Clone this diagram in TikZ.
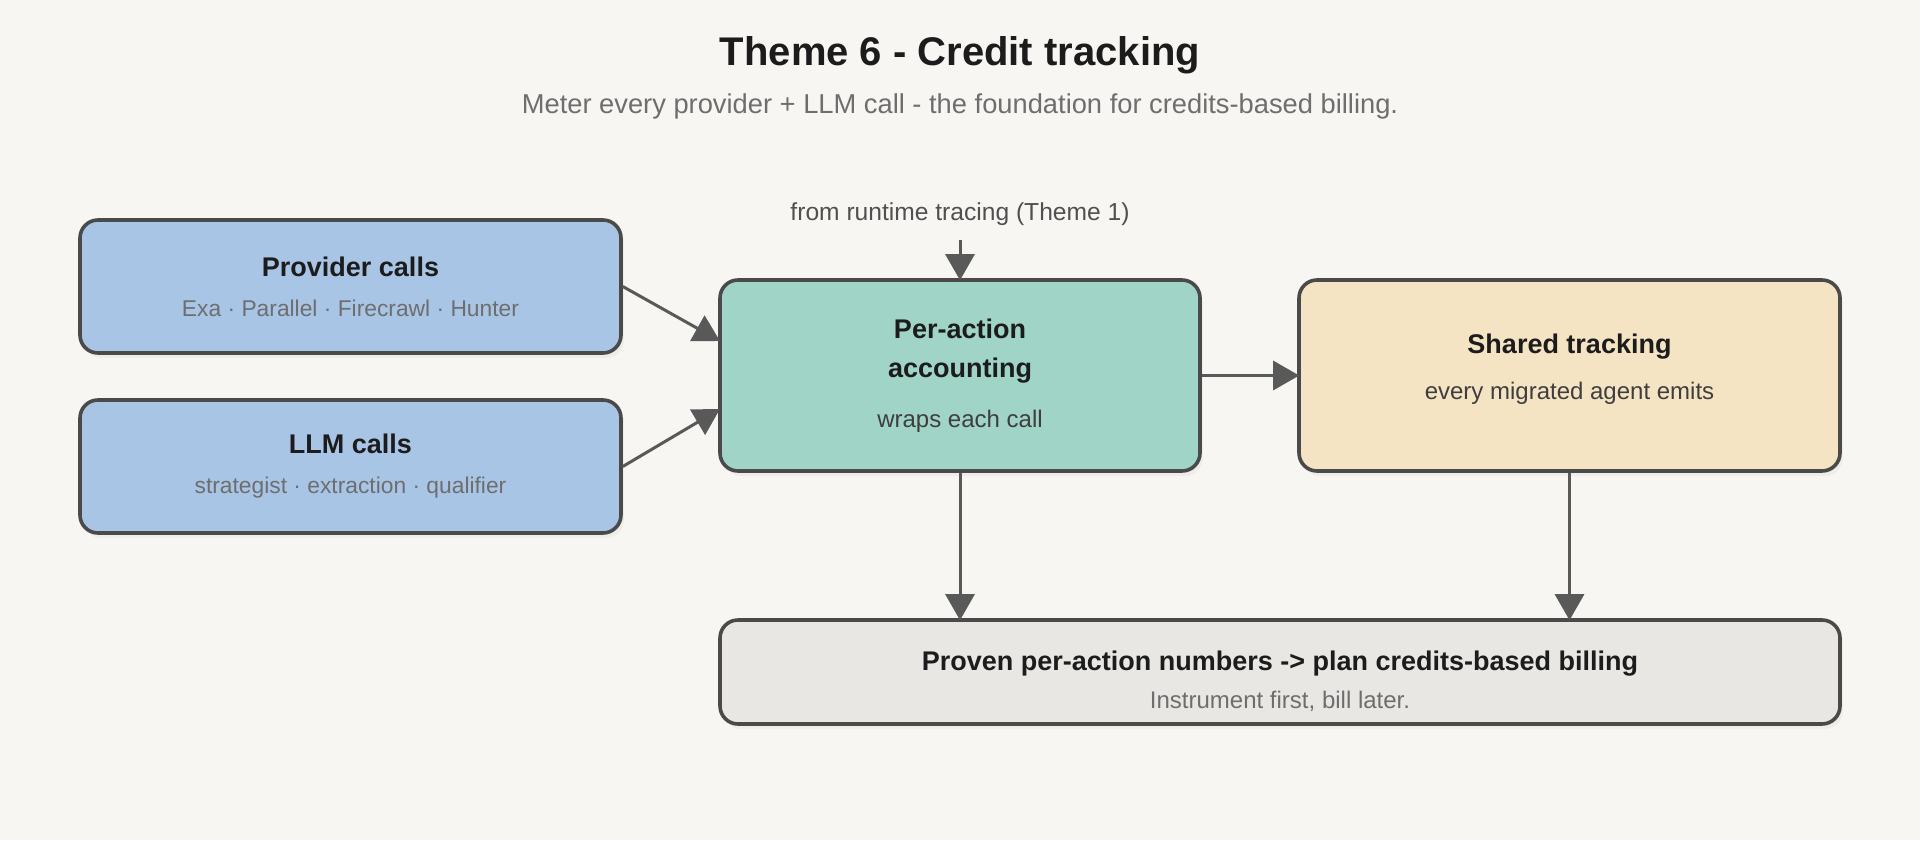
\documentclass[tikz,border=0pt]{standalone}
\usepackage{fontspec}
\setmainfont{Liberation Sans}
\usetikzlibrary{arrows.meta,shadows}

\definecolor{paper}{HTML}{F7F6F2}
\definecolor{edgegrey}{HTML}{4A4A4A}
\definecolor{flowgrey}{HTML}{595959}
\definecolor{inkdark}{HTML}{1C1C1C}
\definecolor{inkmid}{HTML}{3E3E3E}
\definecolor{inklight}{HTML}{6E6E6E}
\definecolor{provblue}{HTML}{A9C5E6}
\definecolor{acctteal}{HTML}{9FD4C7}
\definecolor{sharedsand}{HTML}{F5E4C3}
\definecolor{billgrey}{HTML}{E8E7E3}

\newcommand{\boxhead}[1]{{\fontsize{13.5}{16}\selectfont\bfseries\color{inkdark}#1}}
\newcommand{\boxsub}[2][inklight]{{\fontsize{11.4}{14}\selectfont\color{#1}#2}}

\tikzset{
	box/.style={draw=edgegrey, line width=1.8pt, rounded corners=9pt, align=center,
		inner sep=0pt, drop shadow={shadow xshift=1.5pt, shadow yshift=-2.5pt, opacity=0.07}},
	flow/.style={draw=flowgrey, line width=1.5pt, -{Triangle[length=13pt,width=14.5pt]}, shorten >=-1pt},
}

\begin{document}
\begin{tikzpicture}[x=0.5pt,y=-0.5pt]
	%%%%% START %%%%%
	
	\fill[paper] (0,0) rectangle (1920,840);
	\useasboundingbox (0,0) rectangle (1920,840);
	
	\node[font=\fontsize{20}{24}\selectfont\bfseries, text=inkdark] (title) at (960,55) {Theme 6 - Credit tracking};
	\node[font=\fontsize{13.65}{16}\selectfont, text=inklight] (subtitle) at (960,106.5) {Meter every provider + LLM call - the foundation for credits-based billing.};
	
	\node[box, fill=provblue, minimum width=270.5pt, minimum height=66.5pt, font=\fontsize{13.5}{20}\selectfont] (prov) at (350.5,286.5)
		{\boxhead{Provider calls}\\\boxsub{Exa · Parallel · Firecrawl · Hunter}};
	\node[box, fill=provblue, minimum width=270.5pt, minimum height=66.5pt, font=\fontsize{13.5}{20}\selectfont] (llm) at (350.5,466.5)
		{\boxhead{LLM calls}\\\boxsub{strategist · extraction · qualifier}};
	
	\node[font=\fontsize{12.3}{14}\selectfont, text=flowgrey!90!black] (tracing) at (960,214) {from runtime tracing (Theme 1)};
	\coordinate (tracingend) at (960,240);
	
	\node[box, fill=acctteal, minimum width=240pt, minimum height=95.5pt, font=\fontsize{13.5}{19.5}\selectfont] (acct) at (960,375.5)
		{\boxhead{Per-action}\\\boxhead{accounting}\\[5.5pt]\boxsub[inkmid]{\fontsize{12}{14}\selectfont wraps each call}};
	
	\node[box, fill=sharedsand, minimum width=270.5pt, minimum height=95.5pt, font=\fontsize{13.5}{22.75}\selectfont] (shared) at (1569.5,375.5)
		{\boxhead{Shared tracking}\\\boxsub[inkmid]{\fontsize{12}{14}\selectfont every migrated agent emits}\\[-13.75pt]\mbox{}};
	
	\node[box, fill=billgrey, minimum width=560pt, minimum height=52pt, font=\fontsize{13.5}{19}\selectfont] (bill) at (1280,672)
		{\mbox{}\\\boxhead{Proven per-action numbers -> plan credits-based billing}\\\boxsub{\fontsize{12}{14}\selectfont Instrument first, bill later.}};
	
	\draw[flow] (prov.east) -- ([yshift=17.75pt]acct.west);
	\draw[flow] (llm.east) -- ([yshift=-17.25pt]acct.west);
	\draw[flow] (tracingend) -- (acct.north);
	\draw[flow] (acct.east) -- (shared.west);
	\draw[flow] (acct.south) -- (acct.south |- bill.north);
	\draw[flow] (shared.south) -- (shared.south |- bill.north);
	
	%%%%% END %%%%%
\end{tikzpicture}
\end{document}
